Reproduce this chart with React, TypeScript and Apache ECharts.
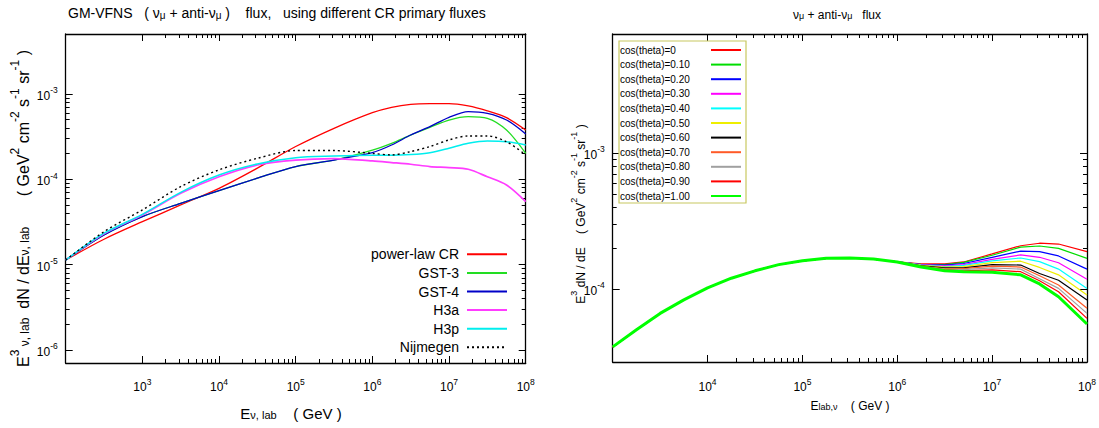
import React, { useEffect, useRef } from 'react';
import * as echarts from 'echarts';

const FONT = '"Liberation Sans", Arial, Helvetica, sans-serif';

// ---------------- Left panel: different CR primary fluxes ----------------
const leftEnergyGeV = [1e2, 3.16e2, 1e3, 3.16e3, 1e4, 3.16e4, 1e5, 3.16e5, 1e6, 1.78e6, 3.16e6, 5.62e6, 1e7, 1.78e7, 3.16e7, 5.62e7, 1e8];
const powerLawCR = [1.13e-5, 1.98e-5, 3.18e-5, 5.0e-5, 7.83e-5, 1.35e-4, 2.42e-4, 3.96e-4, 6.04e-4, 6.98e-4, 7.57e-4, 7.71e-4, 7.71e-4, 7.23e-4, 6.32e-4, 5.28e-4, 3.78e-4];
const gst3 = [1.13e-5, 2.22e-5, 3.65e-5, 5.22e-5, 7.36e-5, 1.03e-4, 1.41e-4, 1.68e-4, 2.2e-4, 2.64e-4, 3.3e-4, 4.06e-4, 4.95e-4, 5.42e-4, 5.19e-4, 3.78e-4, 2.01e-4];
const gst4 = [1.13e-5, 2.22e-5, 3.65e-5, 5.22e-5, 7.36e-5, 1.03e-4, 1.41e-4, 1.68e-4, 2.05e-4, 2.52e-4, 3.3e-4, 4.14e-4, 5.33e-4, 6.21e-4, 5.93e-4, 4.95e-4, 3.4e-4];
const h3a = [1.13e-5, 2.29e-5, 3.81e-5, 6.84e-5, 1.07e-4, 1.47e-4, 1.68e-4, 1.75e-4, 1.64e-4, 1.57e-4, 1.5e-4, 1.41e-4, 1.37e-4, 1.31e-4, 1.07e-4, 8.57e-5, 5.47e-5];
const h3p = [1.13e-5, 2.33e-5, 3.88e-5, 7.03e-5, 1.12e-4, 1.51e-4, 1.79e-4, 1.87e-4, 1.91e-4, 1.91e-4, 1.95e-4, 2.05e-4, 2.31e-4, 2.64e-4, 2.81e-4, 2.76e-4, 2.52e-4];
const nijmegen = [1.13e-5, 2.43e-5, 4.37e-5, 8.2e-5, 1.29e-4, 1.76e-4, 2.17e-4, 2.17e-4, 2.01e-4, 1.93e-4, 2.11e-4, 2.42e-4, 2.89e-4, 3.22e-4, 3.22e-4, 2.76e-4, 1.93e-4];

// ---------------- Right panel: zenith-angle dependence ----------------
const rightEnergyLowGeV = [1e3, 1.78e3, 3.16e3, 5.62e3, 1e4, 1.78e4, 3.16e4, 5.62e4, 1e5, 1.78e5, 3.16e5, 5.62e5, 1e6];
const rightEnergyHighGeV = [1.78e6, 3.16e6, 5.01e6, 1e7, 2e7, 3.16e7, 5.01e7, 1e8];
// all angles coincide below ~1e6 GeV
const commonLowFlux = [3.75e-5, 5.01e-5, 6.61e-5, 8.32e-5, 1.02e-4, 1.2e-4, 1.36e-4, 1.51e-4, 1.61e-4, 1.68e-4, 1.69e-4, 1.66e-4, 1.58e-4];
const cos000 = [1.53e-4, 1.53e-4, 1.58e-4, 1.81e-4, 2.08e-4, 2.17e-4, 2.14e-4, 1.88e-4];
const cos010 = [1.52e-4, 1.51e-4, 1.57e-4, 1.77e-4, 2.03e-4, 2.07e-4, 1.99e-4, 1.68e-4];
const cos020 = [1.51e-4, 1.5e-4, 1.54e-4, 1.71e-4, 1.9e-4, 1.88e-4, 1.75e-4, 1.4e-4];
const cos030 = [1.51e-4, 1.48e-4, 1.51e-4, 1.65e-4, 1.78e-4, 1.71e-4, 1.56e-4, 1.18e-4];
const cos040 = [1.5e-4, 1.46e-4, 1.49e-4, 1.61e-4, 1.69e-4, 1.59e-4, 1.4e-4, 1.01e-4];
const cos050 = [1.49e-4, 1.45e-4, 1.46e-4, 1.56e-4, 1.6e-4, 1.44e-4, 1.27e-4, 9.04e-5];
const cos060 = [1.48e-4, 1.43e-4, 1.43e-4, 1.51e-4, 1.5e-4, 1.3e-4, 1.16e-4, 8.3e-5];
const cos070 = [1.47e-4, 1.41e-4, 1.41e-4, 1.47e-4, 1.45e-4, 1.25e-4, 1.07e-4, 7.21e-5];
const cos080 = [1.46e-4, 1.4e-4, 1.39e-4, 1.43e-4, 1.4e-4, 1.19e-4, 1.01e-4, 6.62e-5];
const cos090 = [1.46e-4, 1.38e-4, 1.36e-4, 1.38e-4, 1.34e-4, 1.15e-4, 9.55e-5, 6.08e-5];
const cos100 = [1.45e-4, 1.36e-4, 1.34e-4, 1.33e-4, 1.27e-4, 1.09e-4, 8.77e-5, 5.53e-5];

// tick decades (exponents of 10)
const leftXMajor = [3, 4, 5, 6, 7, 8];
const leftYMajor = [-6, -5, -4, -3];
const rightXMajor = [4, 5, 6, 7, 8];
const rightYMajor = [-4, -3];

const lg = (v: number) => Math.log10(v);
const pairs = (xs: number[], ys: number[]) => xs.map((x, i) => [lg(x), lg(ys[i])]);

function minorTicks(from: number, to: number) {
  const out: number[] = [];
  for (let n = from; n < to; n++) for (let k = 2; k <= 9; k++) out.push(n + Math.log10(k));
  return out;
}

const tickRich = {
  b: { fontSize: 12, fontFamily: FONT, color: '#000', lineHeight: 16, verticalAlign: 'bottom' },
  s: { fontSize: 8.5, fontFamily: FONT, color: '#000', lineHeight: 7, verticalAlign: 'top' },
};
const powLabel = (v: number) => `{b|10}{s|${Math.round(v)}}`;

function axisSet(dim: 'x' | 'y', gridIndex: number, min: number, max: number, majors: number[], minors: number[], margin: number) {
  const p1 = dim === 'x' ? 'bottom' : 'left';
  const p2 = dim === 'x' ? 'top' : 'right';
  const common = { type: 'value', gridIndex, min, max, splitLine: { show: false }, minorTick: { show: false }, minorSplitLine: { show: false } };
  const line = { show: true, onZero: false, lineStyle: { color: '#000', width: 1.3 } };
  const noLine = { show: false, onZero: false };
  const tick = (vals: number[], len: number) => ({ show: true, inside: true, length: len, customValues: vals, lineStyle: { color: '#000', width: 1 } });
  return [
    { ...common, position: p1, axisLine: line, axisTick: tick(majors, 7), axisLabel: { show: true, customValues: majors, formatter: powLabel, rich: tickRich, margin } },
    { ...common, position: p1, axisLine: noLine, axisTick: tick(minors, 4), axisLabel: { show: false } },
    { ...common, position: p2, axisLine: line, axisTick: tick(majors, 7), axisLabel: { show: false } },
    { ...common, position: p2, axisLine: noLine, axisTick: tick(minors, 4), axisLabel: { show: false } },
  ];
}

function richSet(size: number, small: number, drop: number) {
  return {
    n: { fontSize: size, fontFamily: FONT, color: '#000', lineHeight: size + drop * 2, verticalAlign: 'bottom' },
    sup: { fontSize: small, fontFamily: FONT, color: '#000', lineHeight: small, verticalAlign: 'top' },
    sub: { fontSize: small, fontFamily: FONT, color: '#000', lineHeight: small, verticalAlign: 'bottom' },
  };
}

const leftDefs = [
  { name: 'power-law CR', data: powerLawCR, color: '#ff0000', width: 1.3, type: 'solid' as any },
  { name: 'GST-3', data: gst3, color: '#22dd22', width: 1.3, type: 'solid' as any },
  { name: 'GST-4', data: gst4, color: '#0000c8', width: 1.3, type: 'solid' as any },
  { name: 'H3a', data: h3a, color: '#ff3cff', width: 1.7, type: 'solid' as any },
  { name: 'H3p', data: h3p, color: '#00eeee', width: 1.5, type: 'solid' as any },
  { name: 'Nijmegen', data: nijmegen, color: '#000000', width: 1.4, type: [2, 3] as any },
];

const rightDefs = [
  { name: 'cos(theta)=0', data: cos000, color: '#ff0000', width: 1.2 },
  { name: 'cos(theta)=0.10', data: cos010, color: '#00dd00', width: 1.2 },
  { name: 'cos(theta)=0.20', data: cos020, color: '#0000ff', width: 1.2 },
  { name: 'cos(theta)=0.30', data: cos030, color: '#ff00ff', width: 1.2 },
  { name: 'cos(theta)=0.40', data: cos040, color: '#00ffff', width: 1.2 },
  { name: 'cos(theta)=0.50', data: cos050, color: '#eeee00', width: 1.2 },
  { name: 'cos(theta)=0.60', data: cos060, color: '#000000', width: 1.2 },
  { name: 'cos(theta)=0.70', data: cos070, color: '#ff5a28', width: 1.2 },
  { name: 'cos(theta)=0.80', data: cos080, color: '#a0a0a0', width: 1.2 },
  { name: 'cos(theta)=0.90', data: cos090, color: '#ff0000', width: 1.2 },
  { name: 'cos(theta)=1.00', data: cos100, color: '#00ff00', width: 3 },
];

export default function App() {
  const ref = useRef<HTMLDivElement>(null);
  useEffect(() => {
    if (!ref.current) return;
    const chart = echarts.init(ref.current, undefined, { renderer: 'svg' });

    const leftSeries = leftDefs.map((d) => ({
      type: 'line', name: d.name, xAxisIndex: 0, yAxisIndex: 0,
      data: pairs(leftEnergyGeV, d.data), showSymbol: false, symbol: 'none', smooth: 0.3,
      color: d.color, itemStyle: { color: d.color }, lineStyle: { color: d.color, width: d.width, type: d.type },
    }));
    const rightEnergy = [...rightEnergyLowGeV, ...rightEnergyHighGeV];
    const rightSeries = rightDefs.map((d) => ({
      type: 'line', name: d.name, xAxisIndex: 4, yAxisIndex: 4,
      data: pairs(rightEnergy, [...commonLowFlux, ...d.data]), showSymbol: false, symbol: 'none',
      color: d.color, itemStyle: { color: d.color }, lineStyle: { color: d.color, width: d.width },
    }));

    const r14 = richSet(14, 10, 3);
    const r15 = richSet(15, 11, 3);
    const r16 = richSet(16, 12, 3);
    const r12 = richSet(12, 9, 2.5);

    chart.setOption({
      animation: false,
      backgroundColor: '#ffffff',
      grid: [
        { left: 65.7, top: 34, width: 460, height: 329, outerBoundsMode: 'none', containLabel: false },
        { left: 612.7, top: 34, width: 474.3, height: 328, outerBoundsMode: 'none', containLabel: false },
      ],
      xAxis: [
        ...axisSet('x', 0, 2, 8, leftXMajor, minorTicks(3, 8), 14),
        ...axisSet('x', 1, 3, 8, rightXMajor, minorTicks(4, 8), 15),
      ],
      yAxis: [
        ...axisSet('y', 0, -6.154, -2.297, leftYMajor, minorTicks(-6, -3), 8),
        ...axisSet('y', 1, -4.537, -2.125, rightYMajor, minorTicks(-4, -3), 8),
      ],
      legend: [
        {
          data: leftDefs.map((d) => d.name), orient: 'vertical', align: 'right', right: 591, top: 247.3,
          padding: 0, itemGap: 4.6, itemWidth: 40, itemHeight: 14, selectedMode: false,
          itemStyle: { opacity: 0 },
          textStyle: { fontSize: 14, fontFamily: FONT, color: '#000', lineHeight: 14, padding: [0, 3, 0, 0] },
        },
        {
          data: rightDefs.map((d) => d.name), orient: 'vertical', align: 'right', left: 619, top: 41,
          padding: [3, 4, 1, 1], itemGap: 2.6, itemWidth: 30, itemHeight: 10, selectedMode: false,
          itemStyle: { opacity: 0 },
          borderColor: '#c8c860', borderWidth: 1.2, backgroundColor: '#ffffff',
          formatter: (name: string) => `{t|${name}}`,
          textStyle: {
            fontSize: 10, fontFamily: FONT, color: '#000', lineHeight: 12,
            rich: { t: { width: 86, align: 'left', fontSize: 10, fontFamily: FONT, color: '#000', lineHeight: 12 } },
          },
        },
      ],
      graphic: [
        {
          type: 'text', x: 68, y: 10,
          style: { text: '{n|GM-VFNS   ( ν}{sub|μ}{n| + anti-ν}{sub|μ}{n| )    flux,   using different CR primary fluxes}', rich: r14, align: 'left', verticalAlign: 'middle' },
        },
        {
          type: 'text', x: 837, y: 12,
          style: { text: '{n|ν}{sub|μ}{n| + anti-ν}{sub|μ}{n|   flux}', rich: r12, align: 'center', verticalAlign: 'middle' },
        },
        {
          type: 'text', x: 291, y: 410,
          style: { text: '{n|E}{sub|ν, lab}{n|    ( GeV )}', rich: r15, align: 'center', verticalAlign: 'middle' },
        },
        {
          type: 'text', x: 850, y: 403,
          style: { text: '{n|E}{sub|lab,ν}{n|    ( GeV )}', rich: r12, align: 'center', verticalAlign: 'middle' },
        },
        {
          type: 'text', x: 20, y: 367, rotation: Math.PI / 2,
          style: { text: '{n|E}{sup|3}{sub| ν, lab}{n|  dN / dE}{sub|ν, lab}', rich: r16, align: 'left', verticalAlign: 'middle' },
        },
        {
          type: 'text', x: 20, y: 50, rotation: Math.PI / 2,
          style: { text: '{n|( GeV}{sup|2}{n| cm}{sup|-2}{n| s}{sup|-1}{n| sr}{sup|-1}{n| )}', rich: r16, align: 'right', verticalAlign: 'middle' },
        },
        {
          type: 'text', x: 578, y: 214, rotation: Math.PI / 2,
          style: { text: '{n|E}{sup|3}{n| dN / dE    ( GeV}{sup|2}{n| cm}{sup|-2}{n| s}{sup|-1}{n| sr}{sup|-1}{n| )}', rich: r12, align: 'center', verticalAlign: 'middle' },
        },
      ],
      series: [...leftSeries, ...rightSeries],
    } as any);
    return () => chart.dispose();
  }, []);
  return <div ref={ref} style={{ position: 'fixed', left: 0, top: 0, width: 1099, height: 428 }} />;
}
